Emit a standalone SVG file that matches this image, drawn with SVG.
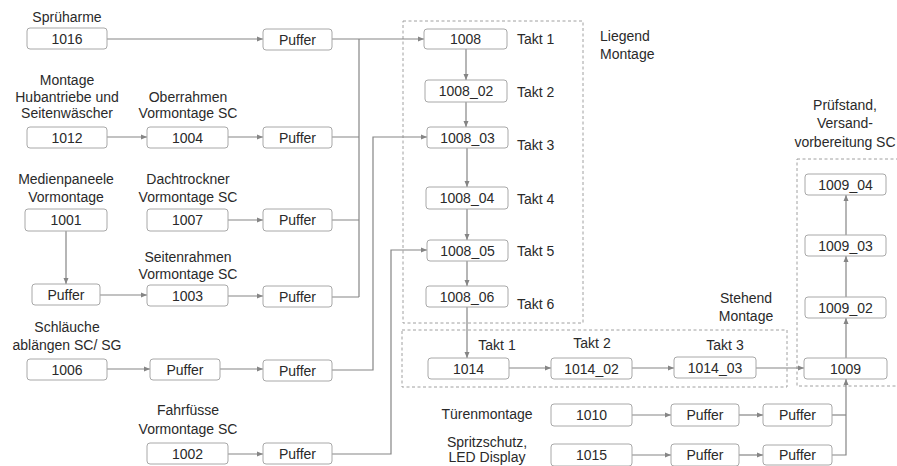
<svg xmlns="http://www.w3.org/2000/svg" width="897" height="466" viewBox="0 0 897 466">
<style>
text{font-family:"Liberation Sans",Arial,sans-serif;font-size:14px;fill:#2a2a2a}
.c{text-anchor:middle}
.b{fill:#fff;stroke:#a8a8a8;stroke-width:1}
.l{fill:none;stroke:#858585;stroke-width:1.2}
.a{marker-end:url(#ah)}
.d{fill:none;stroke:#a0a0a0;stroke-width:1;stroke-dasharray:3,2.5}
</style>
<defs>
<marker id="ah" viewBox="0 0 6 6" refX="6" refY="3" markerWidth="6" markerHeight="6" markerUnits="userSpaceOnUse" orient="auto">
<path d="M0,0.5 L6,3 L0,5.5 z" fill="#858585"/>
</marker>
</defs>
<rect width="897" height="466" fill="#fff"/>

<g id="groups">
<rect class="d" x="403" y="21" width="180" height="302"/>
<rect class="d" x="402" y="330" width="385" height="57"/>
<rect class="d" x="797" y="159" width="120" height="227"/>
<text x="600" y="41">Liegend</text>
<text x="600" y="59">Montage</text>
<text class="c" x="746" y="303">Stehend</text>
<text class="c" x="746" y="321">Montage</text>
<text class="c" x="845" y="110">Prüfstand,</text>
<text class="c" x="845" y="128">Versand-</text>
<text class="c" x="845" y="147">vorbereitung SC</text>
</g>

<g id="connectors">
<path class="l a" d="M107,39 H263"/>
<path class="l a" d="M332,39 H424"/>
<path class="l" d="M359,39 V297"/>
<path class="l" d="M332,137 H359 M332,220 H359 M332,297 H359"/>
<path class="l a" d="M107,137 H147"/>
<path class="l a" d="M228,137 H263"/>
<path class="l a" d="M228,220 H263"/>
<path class="l a" d="M66,231 V284"/>
<path class="l a" d="M100,295 H147"/>
<path class="l a" d="M228,296 H263"/>
<path class="l a" d="M107,369 H150"/>
<path class="l a" d="M220,369 H263"/>
<path class="l a" d="M332,370 H373 V137 H427"/>
<path class="l a" d="M228,454 H263"/>
<path class="l a" d="M332,454 H391 V250 H427"/>
<path class="l a" d="M466,49 V80"/>
<path class="l a" d="M466,102 V127"/>
<path class="l a" d="M467,148 V187"/>
<path class="l a" d="M467,209 V240"/>
<path class="l a" d="M467,261 V286"/>
<path class="l a" d="M467,307 V358"/>
<path class="l a" d="M509,368 H551"/>
<path class="l a" d="M632,368 H674"/>
<path class="l a" d="M756,368 H804"/>
<path class="l a" d="M846,358 V318"/>
<path class="l a" d="M846,297 V256"/>
<path class="l a" d="M846,235 V195"/>
<path class="l a" d="M632,415 H671"/>
<path class="l a" d="M739,415 H763"/>
<path class="l a" d="M632,455 H671"/>
<path class="l a" d="M739,455 H763"/>
<path class="l a" d="M832,455 H846 V379"/>
<path class="l" d="M832,415 H846"/>
</g>

<g id="n1016"><text class="c" x="67" y="22">Sprüharme</text><rect class="b" x="27" y="28" width="80" height="21" rx="3"/><text class="c" x="67" y="43.5">1016</text></g>
<g id="nPA"><rect class="b" x="263" y="29" width="69" height="21" rx="3"/><text class="c" x="297.5" y="44.5">Puffer</text></g>

<g id="n1012"><text class="c" x="67" y="85">Montage</text><text class="c" x="67" y="102">Hubantriebe und</text><text class="c" x="67" y="118">Seitenwäscher</text><rect class="b" x="27" y="127" width="80" height="21" rx="3"/><text class="c" x="67" y="142.5">1012</text></g>
<g id="n1004"><text class="c" x="188" y="102">Oberrahmen</text><text class="c" x="188" y="118">Vormontage SC</text><rect class="b" x="147" y="127" width="81" height="21" rx="3"/><text class="c" x="187.5" y="142.5">1004</text></g>
<g id="nPB"><rect class="b" x="263" y="127" width="69" height="21" rx="3"/><text class="c" x="297.5" y="142.5">Puffer</text></g>

<g id="n1001"><text class="c" x="66" y="184">Medienpaneele</text><text class="c" x="66" y="202">Vormontage</text><rect class="b" x="25" y="209" width="82" height="22" rx="3"/><text class="c" x="66" y="225">1001</text></g>
<g id="n1007"><text class="c" x="188" y="184">Dachtrockner</text><text class="c" x="188" y="202">Vormontage SC</text><rect class="b" x="147" y="209" width="81" height="22" rx="3"/><text class="c" x="187.5" y="225">1007</text></g>
<g id="nPC"><rect class="b" x="263" y="209" width="69" height="22" rx="3"/><text class="c" x="297.5" y="225">Puffer</text></g>

<g id="nP1"><rect class="b" x="32" y="284" width="68" height="21" rx="3"/><text class="c" x="66" y="299.5">Puffer</text></g>
<g id="n1003"><text class="c" x="188" y="262">Seitenrahmen</text><text class="c" x="188" y="279">Vormontage SC</text><rect class="b" x="147" y="285" width="81" height="21" rx="3"/><text class="c" x="187.5" y="300.5">1003</text></g>
<g id="nPD"><rect class="b" x="263" y="286" width="69" height="21" rx="3"/><text class="c" x="297.5" y="301.5">Puffer</text></g>

<g id="n1006"><text class="c" x="67" y="332">Schläuche</text><text class="c" x="67" y="350">ablängen SC/ SG</text><rect class="b" x="27" y="359" width="80" height="21" rx="3"/><text class="c" x="67" y="374.5">1006</text></g>
<g id="nP2"><rect class="b" x="150" y="359" width="70" height="21" rx="3"/><text class="c" x="185" y="374.5">Puffer</text></g>
<g id="nPE"><rect class="b" x="263" y="360" width="69" height="21" rx="3"/><text class="c" x="297.5" y="375.5">Puffer</text></g>

<g id="n1002"><text class="c" x="188" y="415">Fahrfüsse</text><text class="c" x="188" y="434">Vormontage SC</text><rect class="b" x="147" y="443" width="81" height="21" rx="3"/><text class="c" x="187.5" y="458.5">1002</text></g>
<g id="nPF"><rect class="b" x="263" y="443" width="69" height="21" rx="3"/><text class="c" x="297.5" y="458.5">Puffer</text></g>

<g id="n1008"><rect class="b" x="424" y="29" width="83" height="20" rx="3"/><text class="c" x="465.5" y="44">1008</text><text x="517" y="44">Takt 1</text></g>
<g id="n1008_02"><rect class="b" x="425" y="80" width="82" height="22" rx="3"/><text class="c" x="466" y="96">1008_02</text><text x="517" y="97">Takt 2</text></g>
<g id="n1008_03"><rect class="b" x="427" y="127" width="81" height="21" rx="3"/><text class="c" x="467.5" y="142.5">1008_03</text><text x="517" y="150">Takt 3</text></g>
<g id="n1008_04"><rect class="b" x="426" y="187" width="82" height="22" rx="3"/><text class="c" x="467" y="203">1008_04</text><text x="517" y="204">Takt 4</text></g>
<g id="n1008_05"><rect class="b" x="427" y="240" width="81" height="21" rx="3"/><text class="c" x="467.5" y="255.5">1008_05</text><text x="517" y="256">Takt 5</text></g>
<g id="n1008_06"><rect class="b" x="426" y="286" width="82" height="21" rx="3"/><text class="c" x="467" y="301.5">1008_06</text><text x="517" y="309">Takt 6</text></g>

<g id="n1014"><text class="c" x="497" y="350">Takt 1</text><rect class="b" x="428" y="358" width="81" height="21" rx="3"/><text class="c" x="468.5" y="373.5">1014</text></g>
<g id="n1014_02"><text class="c" x="592" y="348">Takt 2</text><rect class="b" x="551" y="358" width="81" height="21" rx="3"/><text class="c" x="591.5" y="373.5">1014_02</text></g>
<g id="n1014_03"><text class="c" x="725" y="350">Takt 3</text><rect class="b" x="674" y="357" width="82" height="21" rx="3"/><text class="c" x="715" y="372.5">1014_03</text></g>

<g id="n1009"><rect class="b" x="804" y="358" width="83" height="21" rx="3"/><text class="c" x="845.5" y="373.5">1009</text></g>
<g id="n1009_02"><rect class="b" x="805" y="297" width="81" height="21" rx="3"/><text class="c" x="845.5" y="312.5">1009_02</text></g>
<g id="n1009_03"><rect class="b" x="805" y="235" width="81" height="21" rx="3"/><text class="c" x="845.5" y="250.5">1009_03</text></g>
<g id="n1009_04"><rect class="b" x="805" y="174" width="81" height="21" rx="3"/><text class="c" x="845.5" y="189.5">1009_04</text></g>

<g id="n1010"><text class="c" x="487" y="419">Türenmontage</text><rect class="b" x="551" y="404" width="81" height="22" rx="3"/><text class="c" x="591.5" y="420">1010</text></g>
<g id="nPG"><rect class="b" x="671" y="404" width="68" height="22" rx="3"/><text class="c" x="705" y="420">Puffer</text></g>
<g id="nPH"><rect class="b" x="763" y="404" width="69" height="22" rx="3"/><text class="c" x="797.5" y="420">Puffer</text></g>

<g id="n1015"><text class="c" x="487" y="447">Spritzschutz,</text><text class="c" x="487" y="462">LED Display</text><rect class="b" x="551" y="444" width="81" height="22" rx="3"/><text class="c" x="591.5" y="460">1015</text></g>
<g id="nPI"><rect class="b" x="671" y="444" width="68" height="22" rx="3"/><text class="c" x="705" y="460">Puffer</text></g>
<g id="nPJ"><rect class="b" x="763" y="445" width="69" height="20" rx="3"/><text class="c" x="797.5" y="460">Puffer</text></g>
</svg>
